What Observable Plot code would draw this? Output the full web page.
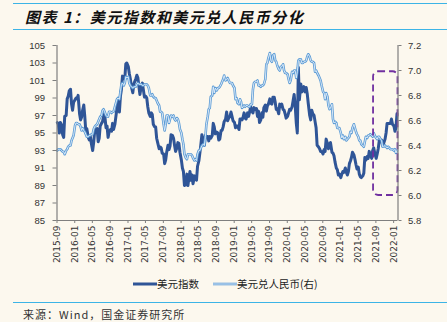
<!DOCTYPE html>
<html>
<head>
<meta charset="utf-8">
<script src="https://cdn.jsdelivr.net/npm/d3@7"></script>
<script src="https://cdn.jsdelivr.net/npm/@observablehq/plot@0.6"></script>
<style>
  html, body { margin: 0; padding: 0; background: #fcf8ee; }
  #wrap { position: relative; width: 447px; height: 322px; overflow: hidden; background: #fcf8ee; }
  .hline { position: absolute; left: 13px; right: 0; height: 0; border-top: 1.5px solid #3cb4e6; }
  #title { position: absolute; left: 25px; top: 6px; font-family: "Noto Sans CJK SC", sans-serif; font-weight: bold; font-style: italic; font-size: 15px; letter-spacing: 1.5px; color: #111; white-space: nowrap; }
  #chart { position: absolute; left: 0; top: 0; }
  #legend { position: absolute; top: 276px; left: 0; width: 447px; font-family: "Noto Sans CJK SC", sans-serif; font-size: 10.5px; color: #222; }
  .li { position: absolute; display: flex; align-items: center; white-space: nowrap; }
  #source { position: absolute; left: 23px; top: 306px; font-family: "Noto Sans CJK SC", sans-serif; font-size: 11px; letter-spacing: 1px; color: #333; white-space: nowrap; }
</style>
</head>
<body>
<div id="wrap">
  <div class="hline" style="top:3px"></div>
  <div id="title">图表 1：美元指数和美元兑人民币分化</div>
  <div class="hline" style="top:29px"></div>
  <div id="chart"></div>
  <div id="legend"></div>
  <div class="hline" style="top:302px"></div>
  <div id="source">来源：Wind，国金证券研究所</div>
</div>
<script>
// ---- data (weekly-ish, 4 points per month, Sep 2015 – Jan 2022) ----
const startYear = 2015, startMonth = 8; // September (0-based)
const weekDays = [3, 10, 17, 24];

const dxyValues = [
  96.2, 96.0, 95.0, 96.2,   // 2015-09
  95.9, 94.8, 94.5, 96.9,   // 2015-10
  97.0, 98.9, 99.2, 99.8,   // 2015-11
  100.0, 98.3, 97.6, 98.5,  // 2015-12
  98.8, 99.0, 98.9, 99.3,   // 2016-01
  97.2, 96.5, 96.8, 97.6,   // 2016-02
  98.2, 96.9, 95.2, 95.5,   // 2016-03
  94.5, 94.2, 94.6, 93.8,   // 2016-04
  93.0, 93.9, 95.2, 95.4,   // 2016-05
  95.5, 94.0, 94.4, 95.8,   // 2016-06
  96.1, 96.3, 96.9, 97.2,   // 2016-07
  95.6, 95.8, 94.5, 95.1,   // 2016-08
  95.4, 95.2, 96.1, 95.4,   // 2016-09
  96.0, 96.9, 97.8, 98.6,   // 2016-10
  97.4, 99.2, 100.0, 101.5, // 2016-11
  101.2, 101.2, 102.9, 103.0, // 2016-12
  102.6, 101.8, 101.2, 100.3, // 2017-01
  99.6, 100.6, 100.9, 101.2, // 2017-02
  101.6, 101.3, 100.3, 99.4, // 2017-03
  100.4, 100.7, 99.9, 99.1, // 2017-04
  99.2, 99.0, 98.0, 97.3,   // 2017-05
  96.9, 97.3, 97.1, 96.0,   // 2017-06
  95.7, 95.7, 94.4, 93.9,   // 2017-07
  93.2, 93.4, 93.3, 92.7,   // 2017-08
  92.6, 91.5, 91.9, 92.8,   // 2017-09
  93.6, 93.1, 93.5, 94.8,   // 2017-10
  94.7, 94.4, 93.6, 92.9,   // 2017-11
  93.3, 93.9, 93.8, 92.8,   // 2017-12
  91.9, 91.0, 90.6, 89.0,   // 2018-01
  89.1, 90.3, 89.0, 89.9,   // 2018-02
  90.6, 89.6, 90.2, 89.2,   // 2018-03
  90.1, 89.8, 89.6, 91.2,   // 2018-04
  91.8, 92.7, 93.7, 94.8,   // 2018-05
  94.0, 93.6, 94.7, 94.6,   // 2018-06
  94.6, 94.1, 94.6, 94.4,   // 2018-07
  94.7, 96.1, 95.7, 94.9,   // 2018-08
  95.1, 95.0, 94.2, 94.3,   // 2018-09
  95.3, 95.3, 95.7, 96.3,   // 2018-10
  96.6, 97.4, 96.4, 96.7,   // 2018-11
  96.9, 97.4, 96.9, 96.4,   // 2018-12
  96.2, 95.6, 95.8, 95.8,   // 2019-01
  95.4, 96.6, 96.6, 96.5,   // 2019-02
  96.8, 97.3, 96.7, 96.6,   // 2019-03
  97.3, 96.9, 97.4, 98.0,   // 2019-04
  97.5, 97.3, 97.9, 97.7,   // 2019-05
  97.8, 96.9, 97.5, 96.2,   // 2019-06
  96.5, 97.3, 96.8, 97.9,   // 2019-07
  98.2, 97.5, 98.1, 98.3,   // 2019-08
  98.9, 98.4, 98.3, 99.1,   // 2019-09
  99.1, 98.5, 97.7, 97.8,   // 2019-10
  97.2, 98.3, 98.0, 98.3,   // 2019-11
  97.7, 97.6, 97.2, 96.7,   // 2019-12
  96.9, 97.3, 97.7, 97.6,   // 2020-01
  98.0, 98.7, 99.4, 98.2,   // 2020-02
  96.1, 95.0, 102.5, 98.8,  // 2020-03
  100.6, 99.7, 99.9, 100.3, // 2020-04
  99.7, 100.2, 99.5, 98.4,  // 2020-05
  97.0, 96.5, 97.6, 97.2,   // 2020-06
  97.0, 96.3, 95.6, 93.6,   // 2020-07
  93.4, 93.2, 92.9, 92.9,   // 2020-08
  92.6, 93.1, 92.9, 94.3,   // 2020-09
  93.8, 93.2, 93.7, 93.9,   // 2020-10
  92.8, 92.7, 92.4, 91.7,   // 2020-11
  91.0, 90.8, 90.2, 90.3,   // 2020-12
  89.9, 90.3, 90.6, 90.5,   // 2021-01
  91.0, 90.5, 90.2, 90.6,   // 2021-02
  91.5, 91.8, 92.2, 92.8,   // 2021-03
  92.5, 92.0, 91.4, 90.9,   // 2021-04
  91.1, 90.3, 90.0, 89.9,   // 2021-05
  90.1, 90.4, 92.2, 91.9,   // 2021-06
  92.3, 92.1, 92.9, 92.6,   // 2021-07
  92.1, 93.0, 93.3, 92.7,   // 2021-08
  92.1, 92.6, 93.2, 94.1,   // 2021-09
  94.0, 94.2, 93.6, 93.8,   // 2021-10
  94.3, 95.0, 96.1, 96.1,   // 2021-11
  96.1, 96.1, 96.6, 96.0,   // 2021-12
  95.8, 95.2, 95.6, 97.2    // 2022-01
];

const cnyValues = [
  6.36, 6.37, 6.37, 6.37,   // 2015-09
  6.36, 6.35, 6.35, 6.33,   // 2015-10
  6.36, 6.37, 6.39, 6.40,   // 2015-11
  6.40, 6.44, 6.46, 6.48,   // 2015-12
  6.56, 6.58, 6.58, 6.57,   // 2016-01
  6.57, 6.55, 6.52, 6.54,   // 2016-02
  6.52, 6.51, 6.49, 6.47,   // 2016-03
  6.47, 6.48, 6.48, 6.49,   // 2016-04
  6.49, 6.53, 6.55, 6.56,   // 2016-05
  6.57, 6.59, 6.61, 6.63,   // 2016-06
  6.64, 6.68, 6.69, 6.67,   // 2016-07
  6.64, 6.63, 6.63, 6.67,   // 2016-08
  6.67, 6.66, 6.67, 6.67,   // 2016-09
  6.71, 6.74, 6.77, 6.78,   // 2016-10
  6.77, 6.83, 6.89, 6.90,   // 2016-11
  6.88, 6.90, 6.95, 6.94,   // 2016-12
  6.95, 6.90, 6.88, 6.87,   // 2017-01
  6.86, 6.87, 6.87, 6.87,   // 2017-02
  6.89, 6.90, 6.89, 6.89,   // 2017-03
  6.89, 6.88, 6.88, 6.89,   // 2017-04
  6.89, 6.89, 6.88, 6.86,   // 2017-05
  6.80, 6.80, 6.81, 6.79,   // 2017-06
  6.78, 6.78, 6.76, 6.74,   // 2017-07
  6.72, 6.67, 6.67, 6.66,   // 2017-08
  6.57, 6.52, 6.57, 6.64,   // 2017-09
  6.64, 6.58, 6.61, 6.64,   // 2017-10
  6.63, 6.64, 6.61, 6.60,   // 2017-11
  6.62, 6.61, 6.58, 6.53,   // 2017-12
  6.50, 6.45, 6.41, 6.33,   // 2018-01
  6.30, 6.29, 6.33, 6.33,   // 2018-02
  6.33, 6.33, 6.32, 6.30,   // 2018-03
  6.28, 6.29, 6.28, 6.33,   // 2018-04
  6.36, 6.36, 6.38, 6.40,   // 2018-05
  6.41, 6.40, 6.47, 6.57,   // 2018-06
  6.63, 6.69, 6.70, 6.79,   // 2018-07
  6.80, 6.87, 6.82, 6.86,   // 2018-08
  6.84, 6.86, 6.86, 6.87,   // 2018-09
  6.89, 6.91, 6.93, 6.96,   // 2018-10
  6.92, 6.93, 6.94, 6.92,   // 2018-11
  6.90, 6.90, 6.90, 6.88,   // 2018-12
  6.86, 6.77, 6.78, 6.74,   // 2019-01
  6.73, 6.77, 6.75, 6.70,   // 2019-02
  6.71, 6.72, 6.71, 6.72,   // 2019-03
  6.72, 6.71, 6.71, 6.73,   // 2019-04
  6.73, 6.85, 6.90, 6.91,   // 2019-05
  6.91, 6.92, 6.88, 6.88,   // 2019-06
  6.87, 6.88, 6.88, 6.89,   // 2019-07
  6.93, 7.05, 7.06, 7.10,   // 2019-08
  7.14, 7.08, 7.07, 7.12,   // 2019-09
  7.13, 7.08, 7.07, 7.04,   // 2019-10
  7.01, 7.00, 7.03, 7.03,   // 2019-11
  7.05, 7.00, 6.98, 6.98,   // 2019-12
  6.97, 6.93, 6.90, 6.92,   // 2020-01
  6.99, 6.98, 7.00, 7.00,   // 2020-02
  6.94, 6.99, 7.08, 7.09,   // 2020-03
  7.09, 7.06, 7.06, 7.07,   // 2020-04
  7.07, 7.08, 7.11, 7.13,   // 2020-05
  7.11, 7.08, 7.07, 7.07,   // 2020-06
  7.06, 6.99, 7.00, 6.98,   // 2020-07
  6.96, 6.94, 6.92, 6.88,   // 2020-08
  6.83, 6.82, 6.77, 6.82,   // 2020-09
  6.79, 6.72, 6.69, 6.70,   // 2020-10
  6.73, 6.61, 6.58, 6.59,   // 2020-11
  6.58, 6.54, 6.54, 6.54,   // 2020-12
  6.50, 6.46, 6.48, 6.45,   // 2021-01
  6.47, 6.44, 6.45, 6.46,   // 2021-02
  6.47, 6.51, 6.50, 6.54,   // 2021-03
  6.57, 6.54, 6.51, 6.49,   // 2021-04
  6.47, 6.44, 6.44, 6.41,   // 2021-05
  6.40, 6.39, 6.43, 6.47,   // 2021-06
  6.46, 6.48, 6.48, 6.49,   // 2021-07
  6.48, 6.47, 6.50, 6.48,   // 2021-08
  6.46, 6.45, 6.47, 6.47,   // 2021-09
  6.45, 6.44, 6.39, 6.39,   // 2021-10
  6.40, 6.39, 6.38, 6.39,   // 2021-11
  6.38, 6.37, 6.37, 6.37,   // 2021-12
  6.36, 6.37, 6.34, 6.36    // 2022-01
];

const leftTicks = [85, 87, 89, 91, 93, 95, 97, 99, 101, 103, 105];
const rightTicks = [5.8, 6.0, 6.2, 6.4, 6.6, 6.8, 7.0, 7.2];
const xTickLabels = ["2015-09","2016-01","2016-05","2016-09","2017-01","2017-05","2017-09",
  "2018-01","2018-05","2018-09","2019-01","2019-05","2019-09","2020-01","2020-05","2020-09",
  "2021-01","2021-05","2021-09","2022-01"];
const seriesNames = ["美元指数", "美元兑人民币(右)"];
const highlightBox = { from: "2021-08-16", to: "2022-01-31", low: 6.0, high: 6.99 };

// ---- build ----
const leftDomain = [85, 105], rightDomain = [5.8, 7.2];
const toLeft = v => leftDomain[0] + (v - rightDomain[0]) / (rightDomain[1] - rightDomain[0]) * (leftDomain[1] - leftDomain[0]);
const fromLeft = v => rightDomain[0] + (v - leftDomain[0]) / (leftDomain[1] - leftDomain[0]) * (rightDomain[1] - rightDomain[0]);
const dateAt = i => new Date(Date.UTC(startYear, startMonth + Math.floor(i / 4), weekDays[i % 4]));

const dxy = dxyValues.map((v, i) => ({date: dateAt(i), v}));
const cny = cnyValues.map((v, i) => ({date: dateAt(i), v: toLeft(v)}));
const xStart = new Date(Date.UTC(2015, 8, 1)), xEnd = new Date(Date.UTC(2022, 0, 31));
const xTicks = xTickLabels.map(s => new Date(s + "-01T00:00:00Z"));
const axisColor = "#7f7f7f";

const chart = Plot.plot({
  width: 447,
  height: 270,
  marginTop: 45,
  marginBottom: 50,
  marginLeft: 56.5,
  marginRight: 49.5,
  style: {background: "transparent", fontFamily: "Liberation Sans, Arial, sans-serif", fontSize: "9.5px", color: "#333"},
  x: {type: "utc", domain: [xStart, xEnd], label: null},
  y: {domain: leftDomain, label: null},
  marks: [
    Plot.lineY(dxy, {x: "date", y: "v", stroke: "#2f5597", strokeWidth: 3, strokeLinejoin: "round"}),
    Plot.lineY(cny, {x: "date", y: "v", stroke: "#5b9bd5", strokeWidth: 2.6, strokeLinejoin: "round"}),
    Plot.lineY(cny, {x: "date", y: "v", stroke: "#e3eef9", strokeWidth: 0.9, strokeLinejoin: "round"}),
    Plot.rect([highlightBox], {
      x1: d => new Date(d.from + "T00:00:00Z"), x2: d => new Date(d.to + "T00:00:00Z"),
      y1: d => toLeft(d.low), y2: d => toLeft(d.high),
      fill: "none", stroke: "#7030a0", strokeWidth: 1.8, strokeDasharray: "7,4", rx: 5, ry: 5
    }),
    Plot.ruleY([leftDomain[0]], {stroke: axisColor, strokeWidth: 1.2}),
    Plot.ruleX([xStart], {stroke: axisColor, strokeWidth: 1.2}),
    Plot.ruleX([xEnd], {stroke: axisColor, strokeWidth: 1.2}),
    Plot.axisY(leftTicks, {anchor: "left", label: null, tickSize: 4, tickPadding: 8, stroke: axisColor, fill: "#333", tickFormat: d => String(d), fontSize: 9.5}),
    Plot.axisY(rightTicks.map(toLeft), {anchor: "right", label: null, tickSize: 3, tickPadding: 7, stroke: axisColor, fill: "#333", tickFormat: d => fromLeft(d).toFixed(1), fontSize: 9.5}),
    Plot.axisX(xTicks, {anchor: "bottom", label: null, tickSize: 3, tickPadding: 2, tickRotate: -90, stroke: axisColor, fill: "#333",
      tickFormat: d => d3.utcFormat("%Y-%m")(d), fontSize: 9, fontFamily: "DejaVu Sans, sans-serif"})
  ]
});
document.getElementById("chart").appendChild(chart);

// ---- legend ----
const legend = document.getElementById("legend");
const items = [
  {name: seriesNames[0], left: 133, svg: '<svg width="24" height="8"><line x1="0" y1="4" x2="24" y2="4" stroke="#2f5597" stroke-width="3"/></svg>'},
  {name: seriesNames[1], left: 213, svg: '<svg width="24" height="8"><line x1="0" y1="4" x2="24" y2="4" stroke="#5b9bd5" stroke-width="2.6"/><line x1="0" y1="4" x2="24" y2="4" stroke="#e3eef9" stroke-width="0.9"/></svg>'}
];
for (const it of items) {
  const d = document.createElement("div");
  d.className = "li";
  d.style.left = it.left + "px";
  d.innerHTML = it.svg + '<span>' + it.name + '</span>';
  legend.appendChild(d);
}
</script>
</body>
</html>
